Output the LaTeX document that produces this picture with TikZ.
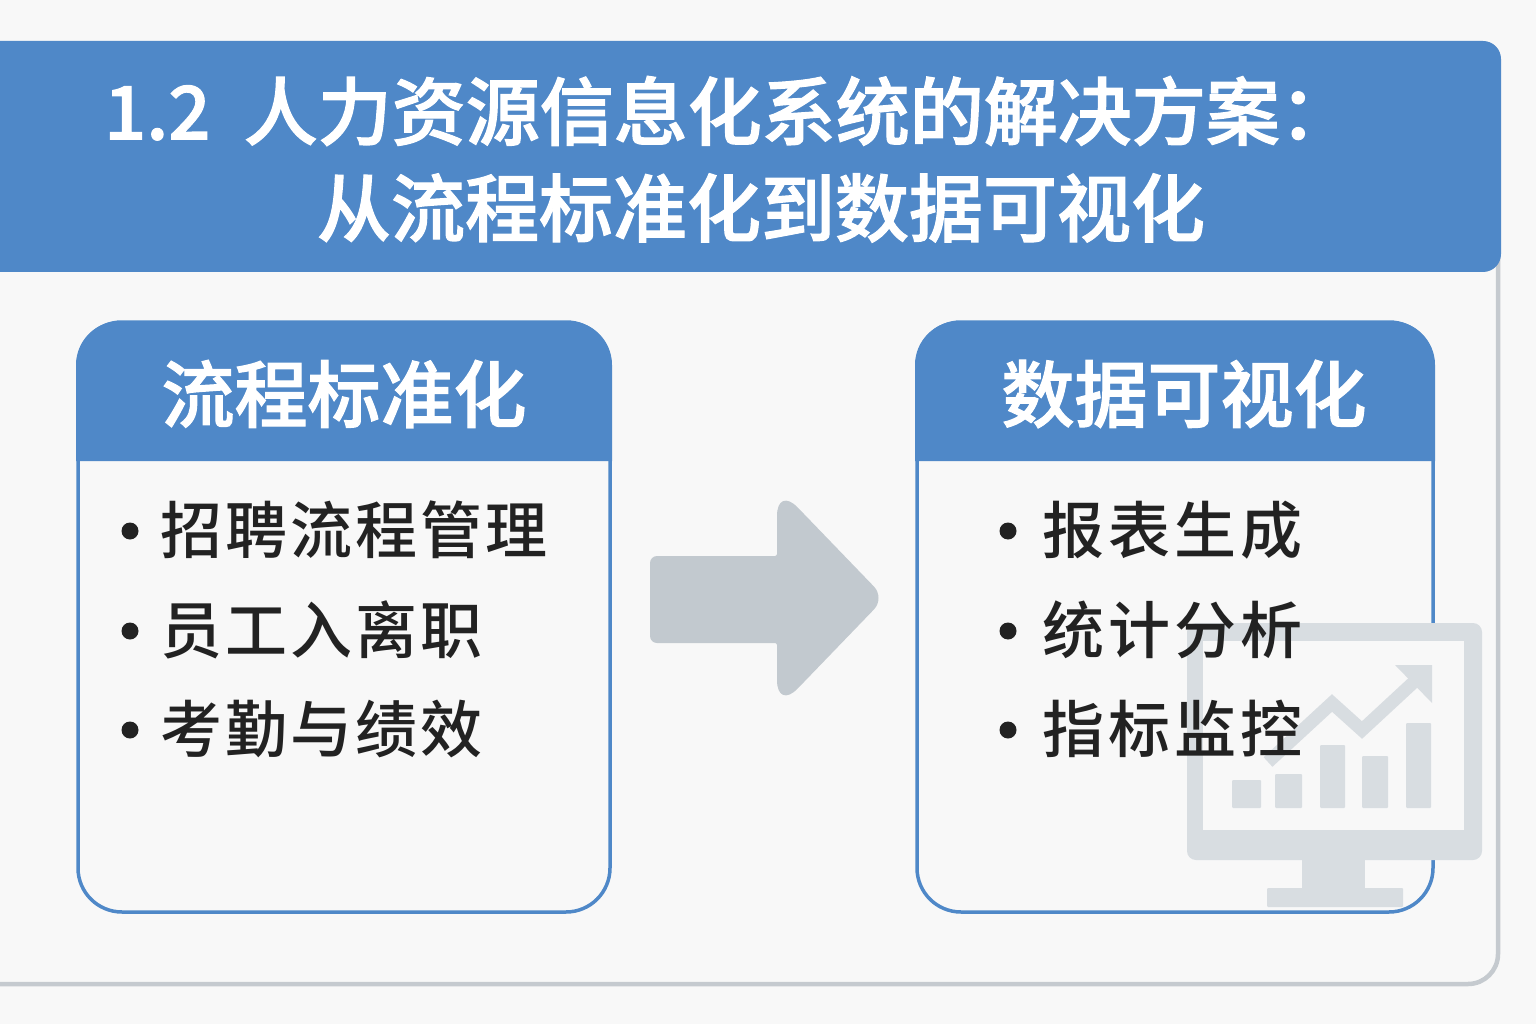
\documentclass[tikz,border=0pt]{standalone}
\usepackage{fontspec}
\setmainfont{Noto Sans CJK SC}[BoldFont={Noto Sans CJK SC Medium}]
\newfontfamily\headfont{Noto Sans CJK SC Medium}[FakeBold=1.5]
\usetikzlibrary{positioning}
\definecolor{bandblue}{HTML}{4F88C8}
\definecolor{paper}{HTML}{F8F8F8}
\definecolor{framegrey}{HTML}{C5CACF}
\definecolor{arrowgrey}{HTML}{C2C9CF}
\definecolor{iconblue}{HTML}{D8DDE1}
\definecolor{inktext}{HTML}{222222}
\tikzset{
	titletext/.style={text=white,font=\fontsize{74pt}{74pt}\headfont},
	headtext/.style={text=white,font=\fontsize{73pt}{73pt}\headfont},
	bullettext/.style={text=inktext,anchor=west,font=\fontsize{62pt}{62pt}\bfseries\addfontfeature{LetterSpace=5}},
	rightitem/.style={text=inktext,anchor=west,font=\fontsize{62pt}{62pt}\bfseries\addfontfeature{LetterSpace=6.5}},
	dotmark/.style={circle,fill=inktext,inner sep=0pt,minimum size=17pt},
	panel/.style={draw=bandblue,line width=3.5pt,fill=paper,rounded corners=44pt},
	iconbar/.style={fill=iconblue,rounded corners=1pt}
}
\begin{document}
\begin{tikzpicture}[x=1pt,y=-1pt]
	\useasboundingbox (0,0) rectangle (1536,1024);
	\fill[paper] (0,0) rectangle (1536,1024);

	% Frame
	\draw[framegrey,line width=4.5pt,rounded corners=30pt] (-20,984) -- (1498,984) -- (1498,200);

	% Title band
	\fill[bandblue,rounded corners=18pt] (-40,41) rectangle (1501,272);
	\node (title1) at (729,111) [titletext] {1.2\hspace{0.45em}人力资源信息化系统的解决方案：};
	\node (title2) at (761,208) [titletext] {从流程标准化到数据可视化};

	% Left panel
	\draw[panel] (78,322) rectangle (610,912);
	\fill[bandblue] (76,461) [rounded corners=44pt] -- (76,321) -- (612,321) [sharp corners] -- (612,461) -- cycle;
	\node (lefthead) at (344,394) [headtext] {流程标准化};
	\node (leftdot1) at (130,531) [dotmark] {};
	\node (leftitem1) at (157,530) [bullettext] {招聘流程管理};
	\node (leftdot2) at (130,631) [dotmark] {};
	\node (leftitem2) at (157,630) [bullettext] {员工入离职};
	\node (leftdot3) at (130,730) [dotmark] {};
	\node (leftitem3) at (157,729) [bullettext] {考勤与绩效};

	% Arrow
	\fill[arrowgrey] (650,600) [rounded corners=7pt] -- (650,556) [rounded corners=2pt] -- (777,556) [rounded corners=30pt] -- (777,486) [rounded corners=16pt] -- (885,598) [rounded corners=30pt] -- (777,710) [rounded corners=2pt] -- (777,643) [rounded corners=7pt] -- (650,643) -- cycle;

	% Right panel
	\draw[panel] (917,322) rectangle (1433,912);
	\fill[bandblue] (915,461) [rounded corners=44pt] -- (915,321) -- (1435,321) [sharp corners] -- (1435,461) -- cycle;
	\node (righthead) at (1184,394) [headtext] {数据可视化};

	% Monitor icon
	\fill[iconblue,rounded corners=9pt] (1187,623) rectangle (1482,860);
	\fill[paper] (1203,641) rectangle (1464,830);
	\fill[iconblue] (1302,860) rectangle (1365,890);
	\fill[iconblue,rounded corners=1pt] (1267,888) rectangle (1403,907);
	\foreach \x/\w/\t in {1232/29/780,1275/27/774,1320/25/745,1362/26/756,1406/25/723}
		\fill[iconbar] (\x,\t) rectangle (\x+\w,808);
	\draw[iconblue,line width=13pt] (1268,762) -- (1332,703) -- (1362,730) -- (1416,680);
	\fill[iconblue] (1395,665) -- (1432,665) -- (1432,703) -- cycle;

	\node (rightdot1) at (1008,531) [dotmark] {};
	\node (rightitem1) at (1039,530) [rightitem] {报表生成};
	\node (rightdot2) at (1008,631) [dotmark] {};
	\node (rightitem2) at (1039,630) [rightitem] {统计分析};
	\node (rightdot3) at (1008,730) [dotmark] {};
	\node (rightitem3) at (1039,729) [rightitem] {指标监控};

\end{tikzpicture}
\end{document}
